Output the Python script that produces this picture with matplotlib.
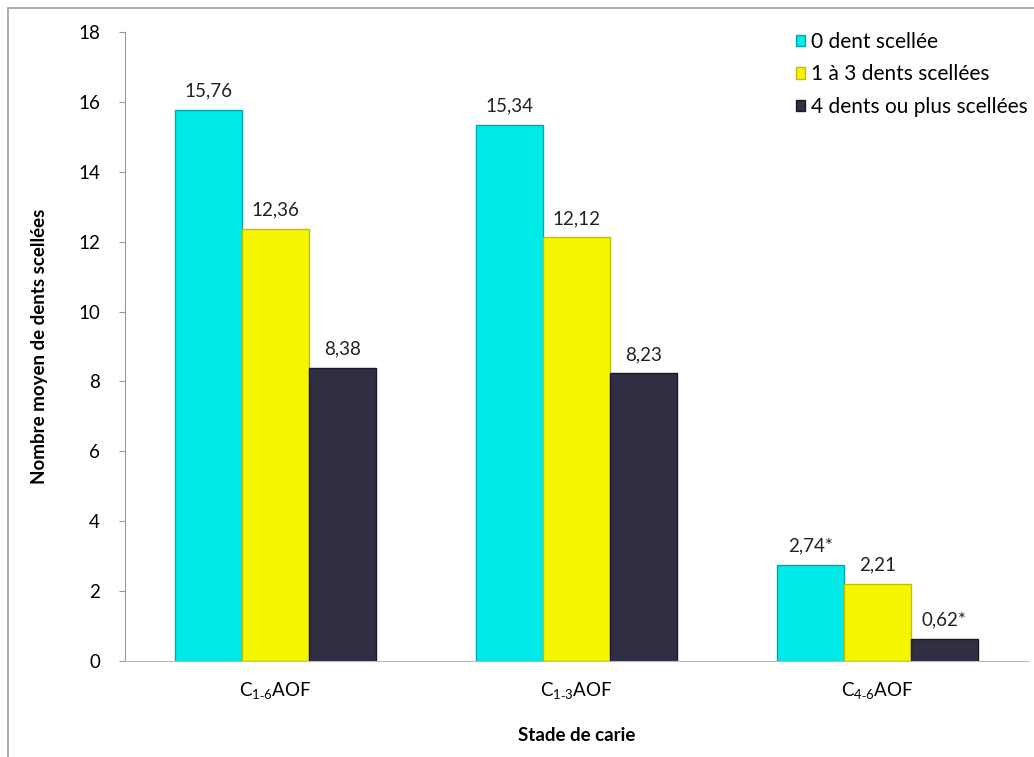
import numpy as np
import matplotlib.pyplot as plt
from matplotlib.patches import Rectangle

plt.rcParams['font.family'] = ['Lato', 'DejaVu Sans']
plt.rcParams['mathtext.fontset'] = 'custom'
plt.rcParams['mathtext.rm'] = 'Lato'

categories = [r'C$_{\mathrm{1‑6}}$AOF', r'C$_{\mathrm{1‑3}}$AOF', r'C$_{\mathrm{4‑6}}$AOF']
series_names = ['0 dent scellée', '1 à 3 dents scellées', '4 dents ou plus scellées']
v_zero = [15.76, 15.34, 2.74]
v_one_three = [12.36, 12.12, 2.21]
v_four_plus = [8.38, 8.23, 0.62]
labels_zero = ['15,76', '15,34', '2,74*']
labels_one_three = ['12,36', '12,12', '2,21']
labels_four_plus = ['8,38', '8,23', '0,62*']

colors = ['#00eaea', '#f5f500', '#302e42']
edges = ['#00a8b0', '#c0c000', '#1a1826']

fig = plt.figure(figsize=(10.34, 7.57), dpi=100)
fig.patches.append(Rectangle((8/1034, -0.01), 1.1, 1 - 8/757 + 0.01, transform=fig.transFigure,
                             fill=False, edgecolor='#a0a0a0', lw=1.2))
ax = fig.add_axes([125/1034, 1 - 661/757, 903/1034, (661 - 32)/757])

x = np.arange(len(categories))
w = 0.222
series = [v_zero, v_one_three, v_four_plus]
texts = [labels_zero, labels_one_three, labels_four_plus]
for i, (vals, labs) in enumerate(zip(series, texts)):
    pos = x + (i - 1) * w
    ax.bar(pos, vals, width=w, color=colors[i], edgecolor=edges[i], lw=1.0, label=series_names[i])
    for p, v, t in zip(pos, vals, labs):
        ax.text(p, v + 0.3, t, ha='center', va='bottom', fontsize=13.5, color='#222222')

ax.set_xlim(-0.5, 2.5)
ax.set_ylim(0, 18)
ax.set_yticks(np.arange(0, 19, 2))
ax.set_xticks(x)
ax.set_xticklabels(categories, fontsize=13.5)
ax.tick_params(axis='y', labelsize=13.5, length=4, color='#999999', pad=14)
ax.tick_params(axis='x', length=0, pad=14)
for s in ['top', 'right']:
    ax.spines[s].set_visible(False)
ax.spines['left'].set_color('#999999')
ax.spines['bottom'].set_color('#bbbbbb')

ax.set_ylabel('Nombre moyen de dents scellées', fontsize=13.5, fontweight='bold', labelpad=22)
ax.set_xlabel('Stade de carie', fontsize=13.5, fontweight='bold', labelpad=18)

ax.legend(loc='upper right', bbox_to_anchor=(1.02, 1.03), frameon=False, fontsize=15,
          handlelength=0.45, handleheight=0.45, handletextpad=0.25, labelspacing=0.6)

plt.savefig('out.png', dpi=100)
